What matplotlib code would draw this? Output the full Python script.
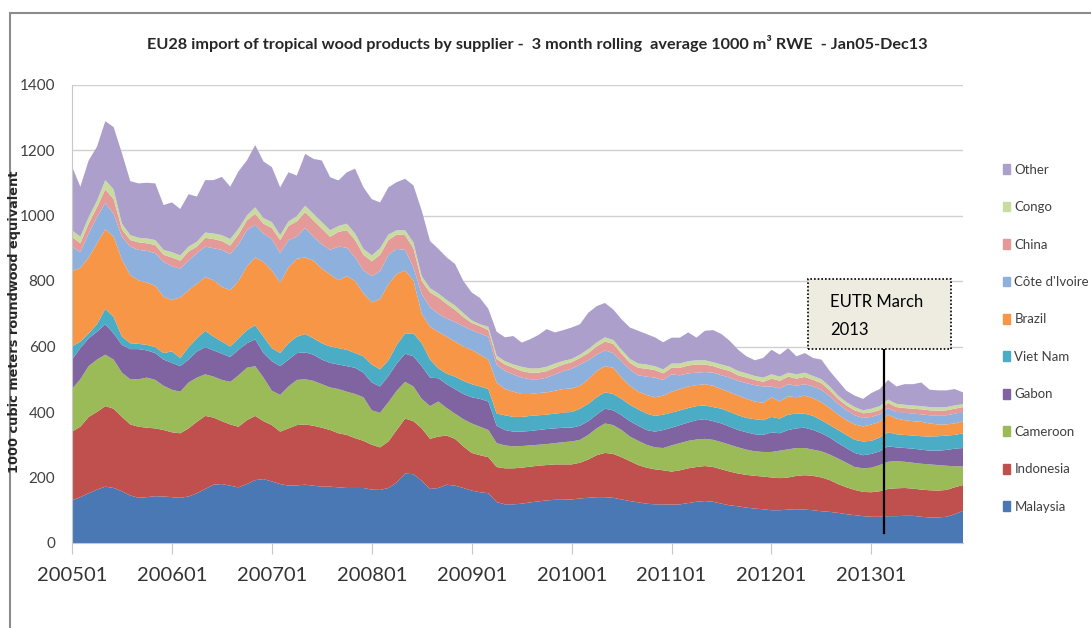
import numpy as np
import matplotlib.pyplot as plt
from matplotlib.patches import Patch, Rectangle

plt.rcParams['font.family'] = ['Lato', 'DejaVu Sans']

# months Jan 2005 - Dec 2013, 3 month rolling average, 1000 m3 RWE
months = [f"{y}{m:02d}" for y in range(2005, 2014) for m in range(1, 13)]
tick_labels = [m for m in months if m.endswith("01")]

malaysia = [130, 140, 152, 163, 172, 168, 158, 145, 138, 140, 143, 142,
            140, 138, 142, 152, 165, 178, 180, 175, 170, 180, 192, 195,
            188, 180, 175, 176, 178, 175, 172, 172, 170, 168, 168, 168,
            163, 162, 168, 185, 212, 210, 190, 165, 168, 178, 175, 168,
            160, 155, 152, 125, 118, 118, 120, 124, 127, 130, 132, 132,
            133, 136, 138, 140, 140, 138, 133, 128, 124, 120, 118, 118,
            117, 118, 122, 126, 128, 126, 120, 115, 112, 108, 105, 103,
            100, 100, 102, 103, 102, 100, 97, 95, 92, 88, 85, 82,
            80, 80, 82, 82, 83, 83, 80, 78, 78, 80, 88, 98]
indonesia = [210, 215, 233, 237, 246, 242, 227, 217, 217, 212, 207, 203,
             198, 197, 208, 218, 223, 205, 192, 187, 185, 195, 196, 177,
             172, 160, 175, 184, 184, 183, 180, 173, 165, 162, 152, 144,
             137, 130, 142, 160, 168, 162, 160, 153, 157, 150, 143, 127,
             115, 113, 110, 107, 110, 110, 110, 109, 109, 108, 108, 108,
             107, 109, 117, 128, 135, 134, 129, 122, 114, 110, 107, 104,
             101, 104, 106, 106, 107, 106, 105, 103, 100, 100, 100, 100,
             100, 98, 98, 102, 105, 105, 103, 97, 88, 82, 77, 74,
             75, 78, 83, 85, 85, 83, 83, 83, 82, 82, 82, 79]
cameroon = [130, 145, 155, 160, 157, 150, 135, 138, 145, 153, 148, 135,
            130, 127, 140, 135, 127, 125, 126, 130, 157, 160, 152, 133,
            105, 112, 128, 138, 138, 137, 133, 130, 135, 132, 135, 133,
            105, 106, 120, 120, 112, 106, 90, 100, 107, 84, 77, 83,
            90, 87, 83, 73, 70, 67, 66, 65, 64, 64, 65, 68,
            70, 70, 75, 82, 90, 88, 83, 75, 74, 70, 67, 68,
            80, 83, 84, 84, 83, 83, 83, 82, 80, 77, 75, 75,
            78, 84, 86, 85, 83, 80, 80, 78, 78, 75, 70, 72,
            75, 80, 83, 83, 80, 79, 79, 79, 78, 74, 64, 57]
gabon = [90, 95, 85, 85, 93, 80, 85, 92, 92, 83, 82, 80,
         82, 78, 70, 80, 83, 80, 80, 76, 78, 75, 82, 75,
         90, 88, 82, 82, 82, 80, 75, 75, 75, 78, 80, 75,
         85, 80, 80, 83, 86, 92, 100, 87, 71, 73, 75, 77,
         80, 85, 87, 53, 47, 45, 44, 44, 45, 46, 45, 44,
         42, 43, 42, 42, 45, 45, 45, 47, 46, 45, 48, 55,
         54, 55, 56, 59, 60, 57, 57, 55, 53, 53, 52, 52,
         60, 53, 59, 60, 62, 60, 55, 52, 47, 45, 43, 40,
         42, 42, 47, 42, 42, 43, 43, 42, 44, 48, 54, 56]
viet_nam = [40, 20, 15, 23, 47, 50, 25, 18, 16, 17, 18, 20,
            35, 25, 38, 40, 50, 42, 37, 32, 35, 40, 43, 50,
            40, 40, 50, 50, 56, 50, 50, 50, 50, 50, 45, 50,
            55, 52, 48, 57, 62, 70, 70, 55, 30, 32, 38, 40,
            40, 38, 38, 37, 45, 45, 45, 46, 45, 44, 45, 46,
            48, 52, 53, 53, 50, 50, 50, 50, 50, 50, 48, 47,
            46, 45, 44, 43, 42, 43, 45, 45, 45, 44, 46, 45,
            47, 45, 47, 45, 43, 43, 40, 38, 40, 40, 40, 42,
            40, 42, 43, 40, 40, 40, 41, 43, 44, 44, 42, 45]
brazil = [230, 225, 232, 247, 243, 245, 235, 208, 194, 190, 187, 172,
          157, 185, 174, 167, 164, 172, 167, 172, 175, 195, 207, 228,
          237, 215, 232, 238, 234, 237, 228, 220, 207, 225, 220, 192,
          190, 215, 232, 217, 192, 162, 90, 100, 112, 113, 107, 105,
          105, 97, 90, 95, 80, 77, 70, 67, 68, 68, 70, 72,
          72, 70, 75, 80, 80, 80, 65, 58, 54, 57, 57, 58,
          64, 65, 66, 64, 65, 65, 60, 60, 60, 58, 54, 53,
          60, 52, 56, 50, 55, 54, 55, 52, 47, 45, 47, 46,
          50, 48, 54, 48, 45, 44, 44, 40, 36, 34, 35, 37]
cote_divoire = [75, 48, 73, 80, 80, 70, 70, 87, 93, 97, 100, 106,
                103, 88, 90, 93, 93, 98, 113, 110, 112, 110, 100, 87,
                96, 90, 83, 67, 90, 73, 74, 75, 103, 87, 72, 70,
                80, 85, 90, 76, 63, 40, 60, 60, 55, 55, 60, 62,
                60, 65, 70, 55, 55, 53, 50, 45, 42, 45, 50, 55,
                60, 65, 58, 50, 48, 45, 50, 50, 50, 56, 60, 48,
                53, 42, 40, 38, 37, 40, 42, 45, 45, 48, 50, 50,
                33, 40, 37, 35, 35, 36, 38, 36, 33, 30, 28, 26,
                23, 23, 20, 20, 23, 23, 23, 25, 28, 28, 30, 28]
china = [30, 27, 30, 30, 42, 45, 23, 20, 23, 23, 25, 22,
         27, 24, 28, 20, 27, 28, 27, 26, 30, 30, 33, 30,
         34, 40, 43, 47, 48, 50, 48, 40, 45, 53, 53, 48,
         45, 50, 45, 44, 45, 58, 40, 45, 50, 45, 37, 28,
         22, 22, 20, 17, 20, 20, 20, 20, 20, 20, 20, 20,
         20, 20, 22, 25, 27, 28, 23, 20, 23, 24, 23, 20,
         20, 23, 24, 25, 23, 20, 20, 20, 17, 17, 16, 14,
         24, 23, 23, 22, 22, 20, 20, 18, 15, 15, 15, 14,
         13, 13, 16, 15, 14, 15, 15, 15, 14, 15, 15, 15]
congo = [20, 20, 20, 20, 28, 30, 17, 15, 14, 15, 15, 15,
         16, 16, 15, 15, 16, 17, 18, 20, 18, 15, 20, 17,
         18, 15, 14, 16, 20, 20, 20, 20, 18, 20, 20, 18,
         18, 20, 17, 13, 15, 18, 15, 13, 12, 12, 13, 12,
         8, 6, 10, 10, 10, 10, 13, 13, 13, 13, 13, 11,
         10, 10, 12, 12, 13, 12, 12, 12, 13, 13, 12, 12,
         13, 13, 13, 13, 13, 12, 13, 13, 13, 13, 12, 13,
         13, 13, 12, 13, 13, 12, 12, 12, 10, 10, 10, 9,
         12, 12, 10, 10, 10, 10, 10, 10, 10, 10, 10, 9]
other = [195, 153, 173, 165, 180, 190, 215, 165, 166, 170, 173, 137,
         152, 142, 160, 138, 160, 163, 178, 160, 175, 168, 190, 173,
         168, 146, 150, 124, 158, 168, 188, 162, 139, 157, 198, 188,
         172, 140, 144, 147, 157, 174, 200, 144, 136, 130, 127, 98,
         85, 80, 55, 73, 73, 87, 74, 89, 102, 115, 95, 94,
         96, 93, 111, 111, 105, 93, 93, 96, 100, 93, 88, 83,
         79, 79, 88, 69, 90, 98, 93, 79, 65, 52, 48, 60,
         75, 67, 75, 55, 60, 55, 60, 47, 45, 35, 35, 35,
         48, 52, 60, 53, 63, 65, 72, 53, 52, 51, 50, 36]

suppliers = ["Malaysia", "Indonesia", "Cameroon", "Gabon", "Viet Nam",
             "Brazil", "Côte d'Ivoire", "China", "Congo", "Other"]
series = [malaysia, indonesia, cameroon, gabon, viet_nam,
          brazil, cote_divoire, china, congo, other]
colours = ["#4A78B4", "#C0504D", "#9BBB59", "#8064A2", "#4BACC6",
           "#F79646", "#8DB0DD", "#E39A98", "#C9DCA0", "#AD9FCB"]

for s in series:
    assert len(s) == len(months)

W, H = 1091, 628
fig = plt.figure(figsize=(W / 100, H / 100), dpi=100)
ax = fig.add_axes([72 / W, 1 - 543 / H, (963 - 72) / W, (543 - 84.5) / H])

x = np.arange(len(months))
ax.stackplot(x, *series, colors=colours, linewidth=0, zorder=2)

ax.set_xlim(0, len(months) - 1)
ax.set_ylim(0, 1400)
ax.set_yticks(range(0, 1401, 200))
ax.set_xticks(x[::12], tick_labels)
ax.yaxis.grid(True, color="#d0d0d0", lw=1)
ax.set_axisbelow(True)
for s in ["top", "right"]:
    ax.spines[s].set_visible(False)
ax.spines["left"].set_color("#c8c8c8")
ax.spines["bottom"].set_color("#c8c8c8")
ax.tick_params(axis="x", length=8, color="#c8c8c8", labelsize=14.5, pad=9,
               labelcolor="#333333")
ax.tick_params(axis="y", length=0, labelsize=11, pad=12, labelcolor="#404040")

fig.text(537 / W, 1 - 44 / H,
         "EU28 import of tropical wood products by supplier -  3 month rolling  "
         "average 1000 m³ RWE  - Jan05-Dec13",
         ha="center", va="center", fontsize=11.7, fontweight="bold", color="#262626")
fig.text(15 / W, 1 - 322 / H, "1000 cubic meters roundwood equivalent",
         rotation=90, ha="center", va="center", fontsize=9.3, fontweight="bold",
         family=["DejaVu Sans"], color="#262626")

# legend, Other on top
handles = [Patch(color=c) for c in colours][::-1]
fig.legend(handles, suppliers[::-1], loc="upper left",
           bbox_to_anchor=(996 / W, 1 - 157 / H), frameon=False, fontsize=9.5,
           handlelength=0.55, handleheight=0.75, handletextpad=0.35,
           labelspacing=1.93, borderpad=0, labelcolor="#404040")

# EUTR marker
ax.plot([97.5, 97.5], [31, 592], color="black", lw=1.6, zorder=5)
ax.add_patch(Rectangle((88.4, 592), 17.1, 214, facecolor="#EEECE1",
                       edgecolor="black", linestyle=(0, (1, 1.2)), lw=1.2,
                       zorder=6, clip_on=False))
ax.text(91.0, 735, "EUTR March", ha="left", va="center", fontsize=12,
        zorder=7)
ax.text(91.0, 650, "2013", ha="left", va="center", fontsize=12, zorder=7)

# outer chart frame
fig.add_artist(Rectangle((10 / W, -0.1), 1.2, 1.1 - 13 / H,
                         transform=fig.transFigure, fill=False,
                         edgecolor="#8c8c8c", lw=1.5))

fig.savefig("out.png", dpi=100, facecolor="white")
